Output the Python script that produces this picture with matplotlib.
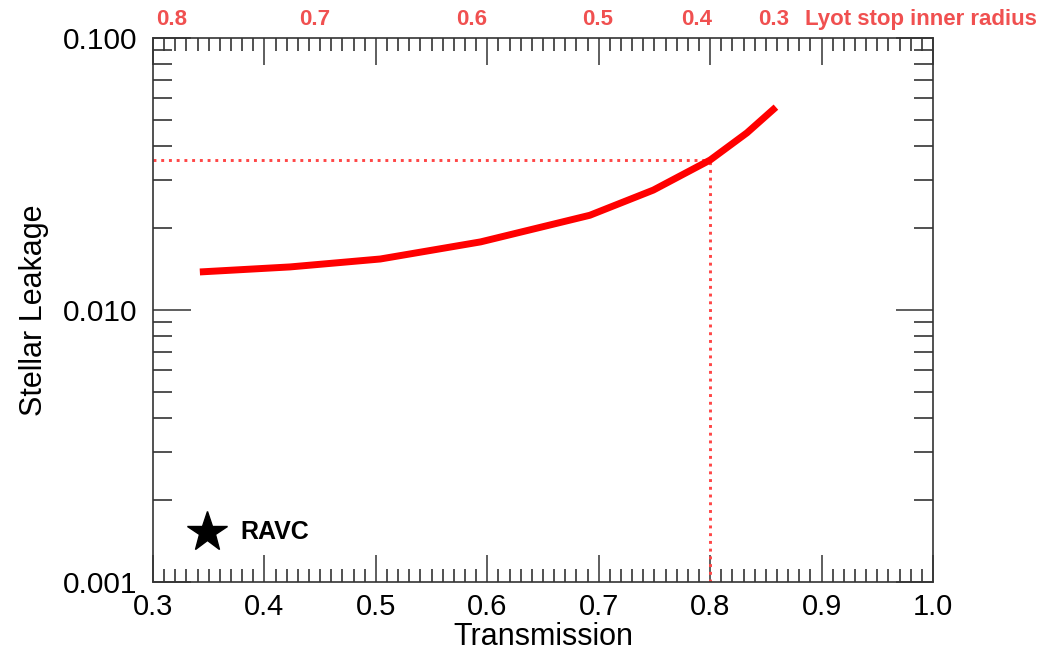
"""Stellar leakage vs transmission, with Lyot stop inner radius along the top."""

import matplotlib.pyplot as plt
from matplotlib.ticker import MultipleLocator, LogLocator, FixedFormatter, FixedLocator
from matplotlib.transforms import blended_transform_factory

plt.rcParams["font.family"] = ["Liberation Sans", "DejaVu Sans"]

# curve
transmission = [0.342, 0.423, 0.504, 0.594, 0.692, 0.749, 0.800, 0.833, 0.859]
leakage = [0.0138, 0.0144, 0.0154, 0.0178, 0.0223, 0.0276, 0.0356, 0.0448, 0.0557]

# working point marked by the dotted lines
op_trans = 0.80
op_leak = 0.0356

# RAVC reference point
ravc_trans = 0.348
ravc_leak = 0.00153

# Lyot stop inner radius labels along the top (placed at transmission values)
lyot_pos = [0.317, 0.445, 0.586, 0.699, 0.788, 0.857]
lyot_labels = ["0.8", "0.7", "0.6", "0.5", "0.4", "0.3"]

RED_TXT = "#f05050"
RED_DOT = "#ff4646"
FRAME = "#333333"

fig = plt.figure(figsize=(10.44, 6.52), dpi=100)
ax = fig.add_axes([0.1466, 0.1074, 0.7471, 0.8343])

ax.plot(transmission, leakage, color="red", lw=5, solid_capstyle="butt",
        solid_joinstyle="round", zorder=3)
ax.plot([0.3, op_trans], [op_leak, op_leak], ls=":", color=RED_DOT, lw=2.1, zorder=2)
ax.plot([op_trans, op_trans], [0.001, op_leak], ls=":", color=RED_DOT, lw=2.1, zorder=2)

ax.plot([ravc_trans], [ravc_leak], marker="*", color="black", ms=30, ls="none",
        clip_on=False, zorder=4)
ax.text(ravc_trans + 0.030, ravc_leak, "RAVC", fontsize=18, fontweight="bold",
        va="center", ha="left")

ax.set_yscale("log")
ax.set_xlim(0.3, 1.0)
ax.set_ylim(0.001, 0.1)

ax.xaxis.set_major_locator(MultipleLocator(0.1))
ax.xaxis.set_minor_locator(MultipleLocator(0.01))
ax.xaxis.set_major_formatter(plt.FuncFormatter(lambda v, p: f"{v:.1f}"))

ax.yaxis.set_major_locator(FixedLocator([0.001, 0.01, 0.1]))
ax.yaxis.set_major_formatter(FixedFormatter(["0.001", "0.010", "0.100"]))
ax.yaxis.set_minor_locator(LogLocator(base=10, subs=range(2, 10)))
ax.yaxis.set_minor_formatter(plt.NullFormatter())

ax.tick_params(axis="x", which="major", direction="in", length=19.5, width=1.1,
               color=FRAME, top=True, bottom=True, labelsize=21, pad=8)
ax.tick_params(axis="x", which="minor", direction="in", length=9.5, width=1.2,
               color=FRAME, top=True, bottom=True)
ax.tick_params(axis="y", which="major", direction="in", length=27, width=1.1,
               color=FRAME, left=True, right=True, labelsize=21.5, pad=11)
ax.tick_params(axis="y", which="minor", direction="in", length=14, width=1.2,
               color=FRAME, left=True, right=True)

for sp in ax.spines.values():
    sp.set_linewidth(1.2)
    sp.set_color(FRAME)

ax.set_xlabel("Transmission", fontsize=22, labelpad=1)
ax.set_ylabel("Stellar Leakage", fontsize=22, labelpad=10)

trans = blended_transform_factory(ax.transData, ax.transAxes)
for pos, lab in zip(lyot_pos, lyot_labels):
    ax.text(pos, 1.034, lab, transform=trans, color=RED_TXT, fontsize=16,
            fontweight="bold", ha="center", va="center")
ax.text(0.885, 1.034, "Lyot stop inner radius", transform=trans, color=RED_TXT,
        fontsize=16, fontweight="bold", ha="left", va="center")

plt.savefig("out.png", dpi=100)
